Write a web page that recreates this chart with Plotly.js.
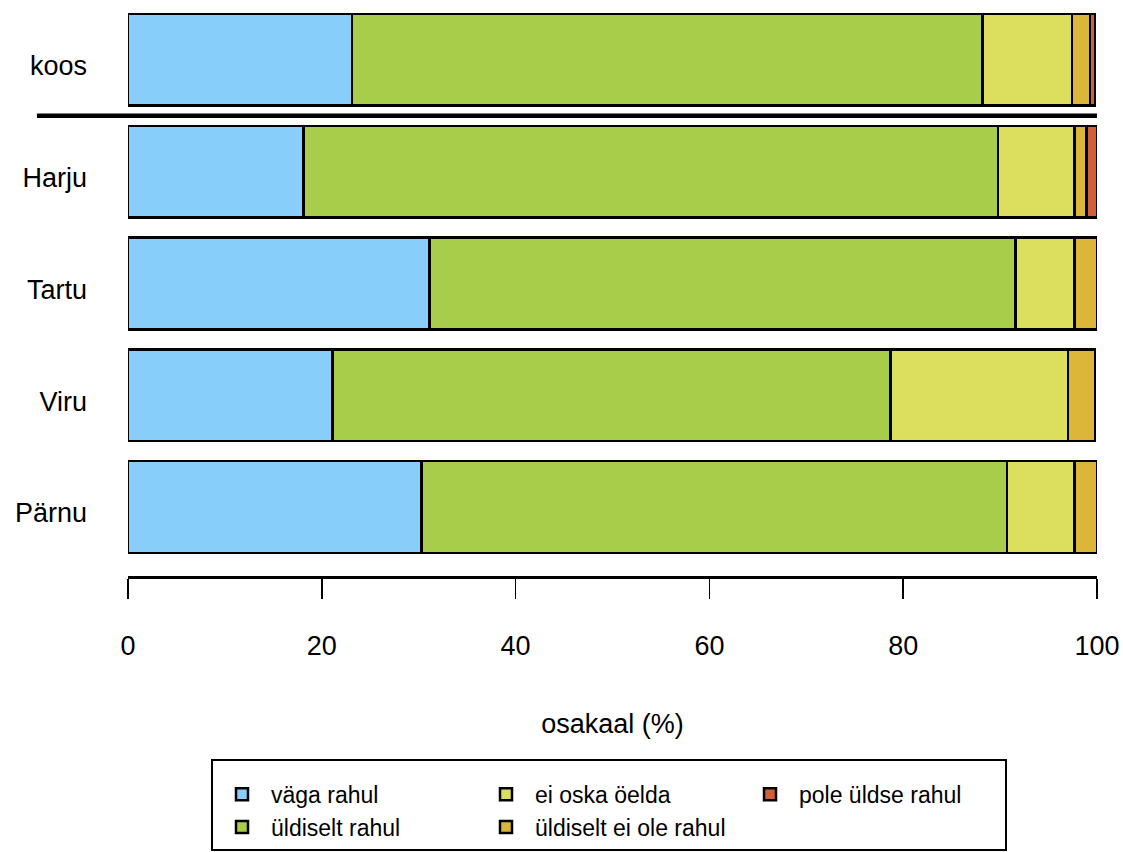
<!DOCTYPE html>
<html>
<head>
<meta charset="utf-8">
<script src="https://cdn.plot.ly/plotly-3.0.1.min.js"></script>
<style>html,body{margin:0;padding:0;background:#fff;}#chart{width:1123px;height:852px;}</style>
</head>
<body>
<div id="chart"></div>
<script>
const categories = ['koos', 'Harju', 'Tartu', 'Viru', 'Pärnu'];
const seriesNames = ['väga rahul', 'üldiselt rahul', 'ei oska öelda', 'üldiselt ei ole rahul', 'pole üldse rahul'];
const vagaRahul = [23.1, 18.1, 31.1, 21.1, 30.3];
const uldiseltRahul = [65.1, 71.7, 60.5, 57.6, 60.4];
const eiOskaOelda = [9.2, 7.9, 6.1, 18.3, 7.0];
const uldiseltEiOleRahul = [1.9, 1.2, 2.3, 2.8, 2.3];
const poleUldseRahul = [0.5, 1.1, 0, 0, 0];
const xTicks = [0, 20, 40, 60, 80, 100];

const seriesValues = [vagaRahul, uldiseltRahul, eiOskaOelda, uldiseltEiOleRahul, poleUldseRahul];
const colors = ['#87CEFA', '#A7CD4B', '#DCDF5E', '#DBB638', '#D35F37'];
const legendRanks = [1, 4, 2, 5, 3];

const traces = seriesNames.map((name, i) => ({
  type: 'bar',
  orientation: 'h',
  name: name,
  x: seriesValues[i],
  y: categories,
  marker: {color: colors[i], line: {color: '#000', width: 2.5}},
  legendrank: legendRanks[i],
  hoverinfo: 'x+name'
}));

const font = 'Liberation Sans, Arial, Helvetica, sans-serif';

const layout = {
  width: 1123,
  height: 852,
  margin: {l: 128, r: 26, t: 4, b: 276},
  barmode: 'stack',
  bargap: 0.18,
  paper_bgcolor: '#fff',
  plot_bgcolor: '#fff',
  font: {family: font, size: 27, color: '#000'},
  showlegend: true,
  xaxis: {
    range: [0, 100],
    tickvals: xTicks,
    ticktext: xTicks.map(String),
    ticks: 'outside',
    ticklen: 20,
    tickwidth: 1.5,
    tickcolor: '#000',
    showline: true,
    linecolor: '#000',
    linewidth: 2.5,
    showgrid: false,
    zeroline: false,
    ticklabelstandoff: 24,
    tickfont: {size: 27},
    title: {text: 'osakaal (%)', font: {size: 27}, standoff: 54},
    automargin: false,
    fixedrange: true
  },
  yaxis: {
    type: 'category',
    categoryorder: 'array',
    categoryarray: categories,
    range: [4.617, -0.5],
    showline: false,
    showgrid: false,
    zeroline: false,
    ticks: '',
    ticklabelstandoff: 40,
    ticklabelshift: -6,
    tickfont: {size: 27},
    automargin: false,
    fixedrange: true
  },
  legend: {
    orientation: 'h',
    xref: 'container',
    yref: 'container',
    x: 211 / 1123,
    y: 1 - 759 / 852,
    xanchor: 'left',
    yanchor: 'top',
    bordercolor: '#000',
    borderwidth: 2,
    bgcolor: '#fff',
    font: {size: 23, family: font},
    entrywidth: 201,
    itemwidth: 48,
    traceorder: 'normal',
    title: {text: '\u00a0', side: 'top', font: {size: 9}},
    itemclick: false,
    itemdoubleclick: false
  },
  shapes: [{
    type: 'line',
    xref: 'paper',
    yref: 'y',
    x0: -0.094,
    x1: 1,
    y0: 0.5,
    y1: 0.5,
    line: {color: '#000', width: 4.5}
  }]
};

Plotly.newPlot('chart', traces, layout, {displayModeBar: false, staticPlot: true});
</script>
</body>
</html>
